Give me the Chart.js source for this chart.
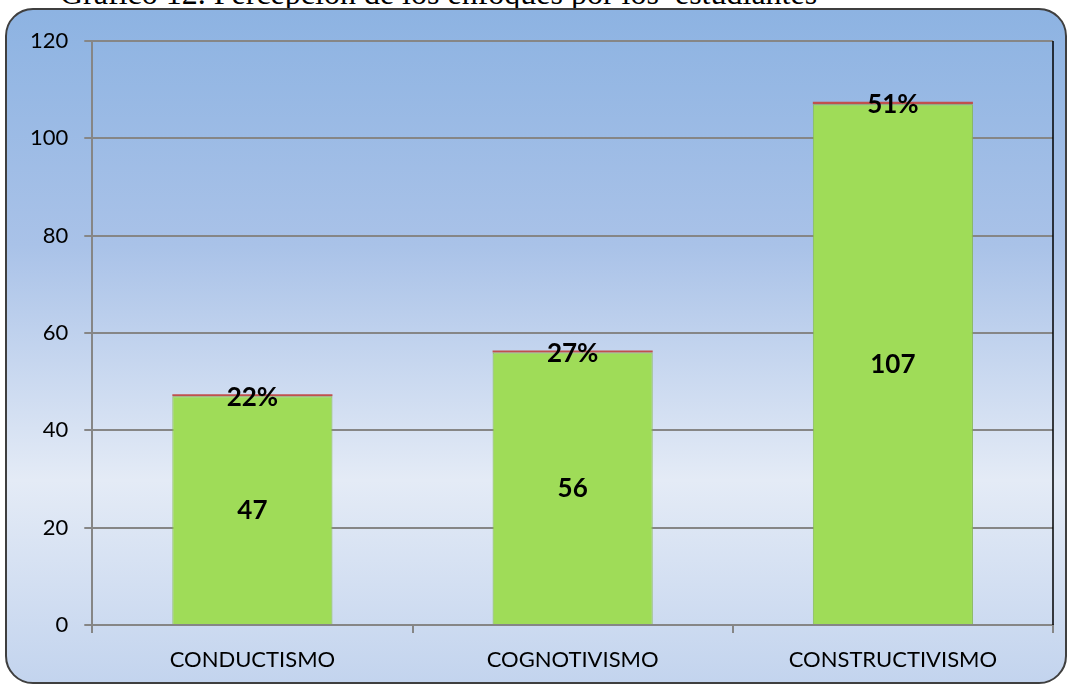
<!DOCTYPE html>
<html>
<head>
<meta charset="utf-8">
<script src="https://cdn.jsdelivr.net/npm/chart.js@4"></script>
<style>
  body { margin: 0; background: #fff; width: 1070px; height: 685px; overflow: hidden; position: relative; }
  #title { position: absolute; left: 60px; top: -23px; line-height: 32px; font-family: "Liberation Serif", serif; font-size: 32px; color: #000; white-space: pre; }
  #frame {
    position: absolute; left: 5px; top: 8px; width: 1062px; height: 676px;
    border: 2px solid #3f3f3f; border-radius: 28px; box-sizing: border-box;
    background: linear-gradient(to bottom, #8db3e2 0%, #a9c2e8 35%, #e4ebf6 70%, #c3d4ee 100%);
  }
  #chart { position: absolute; left: 0; top: 0; }
</style>
</head>
<body>
<div id="title">Gráfico 12. Percepción de los enfoques por los  estudiantes</div>
<div id="frame"></div>
<canvas id="chart" width="1070" height="685"></canvas>
<script>
const categories = ["CONDUCTISMO", "COGNOTIVISMO", "CONSTRUCTIVISMO"];
const counts = [47, 56, 107];
const shares = [0.22, 0.27, 0.51];
const shareLabels = ["22%", "27%", "51%"];
const yTicks = [0, 20, 40, 60, 80, 100, 120];

// labels on bars + black right edge of plot
const barLabels = {
  id: "barLabels",
  afterDatasetsDraw(chart) {
    const ctx = chart.ctx;
    const area = chart.chartArea;
    ctx.save();
    ctx.strokeStyle = "#000";
    ctx.lineWidth = 1.5;
    ctx.beginPath();
    ctx.moveTo(area.right, area.top);
    ctx.lineTo(area.right, area.bottom);
    ctx.stroke();

    ctx.fillStyle = "#000";
    ctx.font = "bold 26px Lato";
    ctx.textAlign = "center";
    ctx.textBaseline = "middle";
    const m0 = chart.getDatasetMeta(0);
    m0.data.forEach((bar, i) => {
      ctx.fillText(counts[i], bar.x, (bar.y + bar.base) / 2);
    });
    const m1 = chart.getDatasetMeta(1);
    m1.data.forEach((bar, i) => {
      ctx.fillText(shareLabels[i], bar.x, bar.y + 3);
    });
    ctx.restore();
  }
};

new Chart(document.getElementById("chart"), {
  type: "bar",
  data: {
    labels: categories,
    datasets: [
      {
        label: "Frecuencia",
        data: counts,
        backgroundColor: "#9fdc58",
        borderColor: "#86b855",
        borderWidth: 1,
        barPercentage: 0.5,
        categoryPercentage: 1,
      },
      {
        label: "Porcentaje",
        data: shares,
        backgroundColor: "#c0504d",
        borderWidth: 0,
        minBarLength: 2,
        barPercentage: 0.5,
        categoryPercentage: 1,
      },
    ],
  },
  options: {
    responsive: false,
    animation: false,
    layout: { padding: { left: 14, right: 17, top: 41, bottom: -2 } },
    plugins: {
      legend: { display: false },
      tooltip: { enabled: false },
    },
    scales: {
      x: {
        stacked: true,
        grid: {
          offset: true,
          drawOnChartArea: false,
          color: "#868686",
          lineWidth: 2,
          tickLength: 8,
        },
        border: { color: "#868686", width: 2 },
        ticks: {
          color: "#000",
          font: { family: "Lato", size: 22, lineHeight: 1 },
          padding: 16,
          maxRotation: 0,
        },
      },
      y: {
        stacked: true,
        min: 0,
        max: 120,
        afterBuildTicks: (axis) => {
          axis.ticks = yTicks.map((v) => ({ value: v }));
        },
        grid: {
          color: "#868686",
          lineWidth: 2,
          tickLength: 8,
        },
        border: { color: "#868686", width: 2 },
        ticks: {
          color: "#000",
          font: { family: "Lato", size: 22 },
          padding: 16,
        },
      },
    },
  },
  plugins: [barLabels],
});
</script>
</body>
</html>
